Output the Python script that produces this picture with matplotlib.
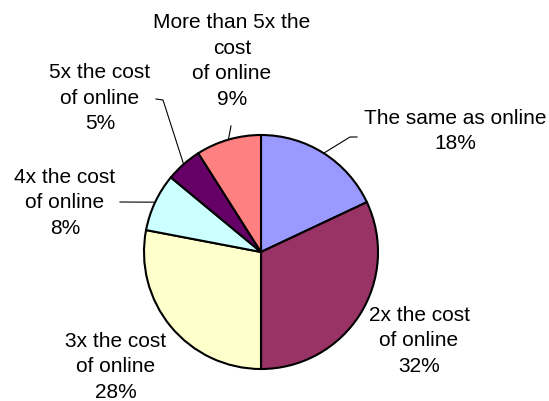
import numpy as np
import matplotlib
matplotlib.use("Agg")
import matplotlib.pyplot as plt

plt.rcParams['font.family'] = ['Liberation Sans', 'DejaVu Sans']

# survey answers, clockwise from 12 o'clock
categories = ["The same as online", "2x the cost\nof online", "3x the cost\nof online",
              "4x the cost\nof online", "5x the cost\nof online", "More than 5x the\ncost\nof online"]
shares = [18, 32, 28, 8, 5, 9]
colors = ["#9999FF", "#993366", "#FFFFCC", "#CCFFFF", "#660066", "#FF8080"]

W, H = 549, 402
cx, cy, r = 261, H - 253, 117

# label block centres (pixel coords, y from top)
label_pos = [(455, 131), (419, 341), (116, 367), (65, 203), (100, 98), (232, 61)]
# leader line knees (None = no leader); last point is next to the text
leaders = [[(350, 138), (357, 138)], None, None, [(120, 203)], [(163, 101), (156, 100)], [(231, 127)]]

fig = plt.figure(figsize=(W / 100, H / 100), dpi=100)
ax = fig.add_axes([0, 0, 1, 1])

ax.pie(shares, colors=colors, startangle=90, counterclock=False,
       center=(cx, cy), radius=r,
       wedgeprops=dict(edgecolor="black", linewidth=1.5))
ax.set_xlim(0, W)
ax.set_ylim(0, H)
ax.set_aspect("equal")
ax.axis("off")

# mid angle of each wedge, for the leader lines
ends = np.cumsum(shares) / sum(shares) * 360
starts = ends - np.array(shares) / sum(shares) * 360
mids = np.deg2rad(90 - (starts + ends) / 2)

for i, (name, v) in enumerate(zip(categories, shares)):
    lx, ly = label_pos[i]
    ax.text(lx, H - ly, f"{name}\n{v}%", ha="center", va="center",
            multialignment="center", fontsize=15, linespacing=1.45, color="black")
    if leaders[i] is not None:
        px = cx + r * np.cos(mids[i])
        py = cy + r * np.sin(mids[i])
        xs = [px] + [p[0] for p in leaders[i]]
        ys = [py] + [H - p[1] for p in leaders[i]]
        ax.plot(xs, ys, color="black", linewidth=0.8)

fig.savefig("out.png", dpi=100)
